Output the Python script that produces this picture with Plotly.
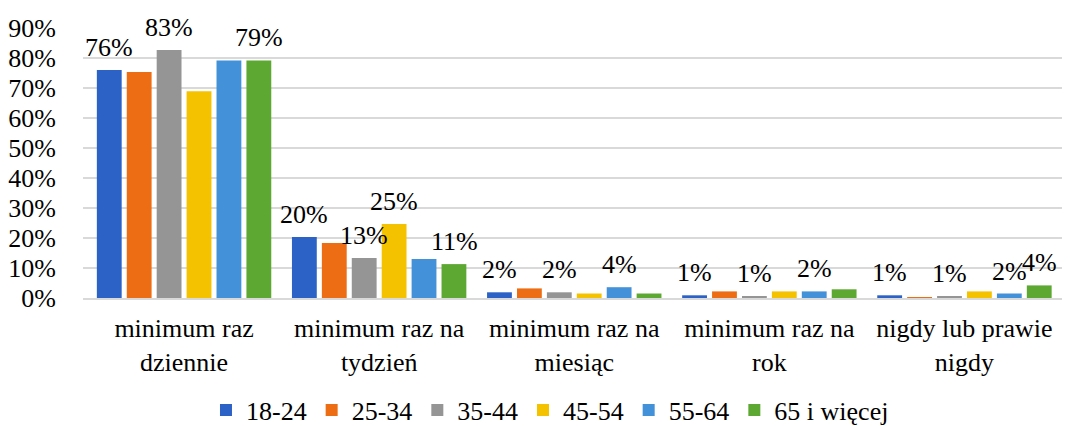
import plotly.graph_objects as go

categories = [
    "minimum raz<br>dziennie",
    "minimum raz na<br>tydzień",
    "minimum raz na<br>miesiąc",
    "minimum raz na<br>rok",
    "nigdy lub prawie<br>nigdy",
]
series_names = ["18-24", "25-34", "35-44", "45-54", "55-64", "65 i więcej"]

v_18_24 = [0.76, 0.203, 0.019, 0.009, 0.009]
v_25_34 = [0.753, 0.183, 0.032, 0.022, 0.003]
v_35_44 = [0.827, 0.133, 0.019, 0.006, 0.006]
v_45_54 = [0.689, 0.247, 0.015, 0.022, 0.022]
v_55_64 = [0.792, 0.13, 0.036, 0.022, 0.015]
v_65_up = [0.792, 0.113, 0.015, 0.029, 0.042]

# only some bars carry a visible label in the original
lab_18_24 = ["76%", "20%", "2%", "1%", "1%"]
lab_25_34 = ["", "", "", "", ""]
lab_35_44 = ["83%", "13%", "2%", "1%", "1%"]
lab_45_54 = ["", "25%", "", "", ""]
lab_55_64 = ["", "", "4%", "2%", "2%"]
lab_65_up = ["79%", "11%", "", "", "4%"]

colours = ["#2C62C6", "#EC6D13", "#959595", "#F5C200", "#4391D9", "#5DA832"]

FONT = "Liberation Serif"
FS = 26

W, H = 1065, 418          # page body has an 8px margin
ML, MR, MT, MB = 75, 11, 20, 128
BARGAP = 0.08

all_vals = [v_18_24, v_25_34, v_35_44, v_45_54, v_55_64, v_65_up]
all_labs = [lab_18_24, lab_25_34, lab_35_44, lab_45_54, lab_55_64, lab_65_up]

fig = go.Figure()
for name, vals, col in zip(series_names, all_vals, colours):
    fig.add_trace(go.Bar(
        x=categories, y=vals, name=name,
        marker={"color": col, "line": {"width": 0}},
    ))

# data labels sit a bit higher than plotly's "outside" text, so use annotations
slot = (W - ML - MR) / len(categories) * (1 - BARGAP) / len(series_names)
for i, (vals, labs) in enumerate(zip(all_vals, all_labs)):
    for cat, v, lab in zip(categories, vals, labs):
        if not lab:
            continue
        fig.add_annotation(
            x=cat, y=v, text=lab, showarrow=False,
            xshift=(i - (len(series_names) - 1) / 2) * slot,
            yanchor="bottom", yshift=6,
            font={"family": FONT, "size": FS, "color": "#000000"},
        )

fig.update_layout(
    width=W, height=H,
    margin={"l": ML, "r": MR, "t": MT, "b": MB, "autoexpand": False},
    paper_bgcolor="white", plot_bgcolor="white",
    barmode="group", bargap=BARGAP, bargroupgap=0.17,
    font={"family": FONT, "size": FS, "color": "#000000"},
    legend={
        "orientation": "h", "x": 0.477, "xanchor": "center",
        "yref": "container", "y": 0.038, "yanchor": "middle",
        "font": {"family": FONT, "size": FS},
        "itemwidth": 30, "traceorder": "normal",
    },
    showlegend=True,
)
fig.update_yaxes(
    range=[0, 0.9], dtick=0.1, tickformat=".0%",
    gridcolor="#D9D9D9", gridwidth=1.5,
    zeroline=False, showline=False, automargin=False,
    ticklabelstandoff=26,
    tickfont={"family": FONT, "size": FS},
)
fig.update_xaxes(
    showline=True, linecolor="#D9D9D9", linewidth=1.5, automargin=False,
    ticklabelstandoff=6,
    tickfont={"family": FONT, "size": FS},
)

fig.write_html("out.html")
